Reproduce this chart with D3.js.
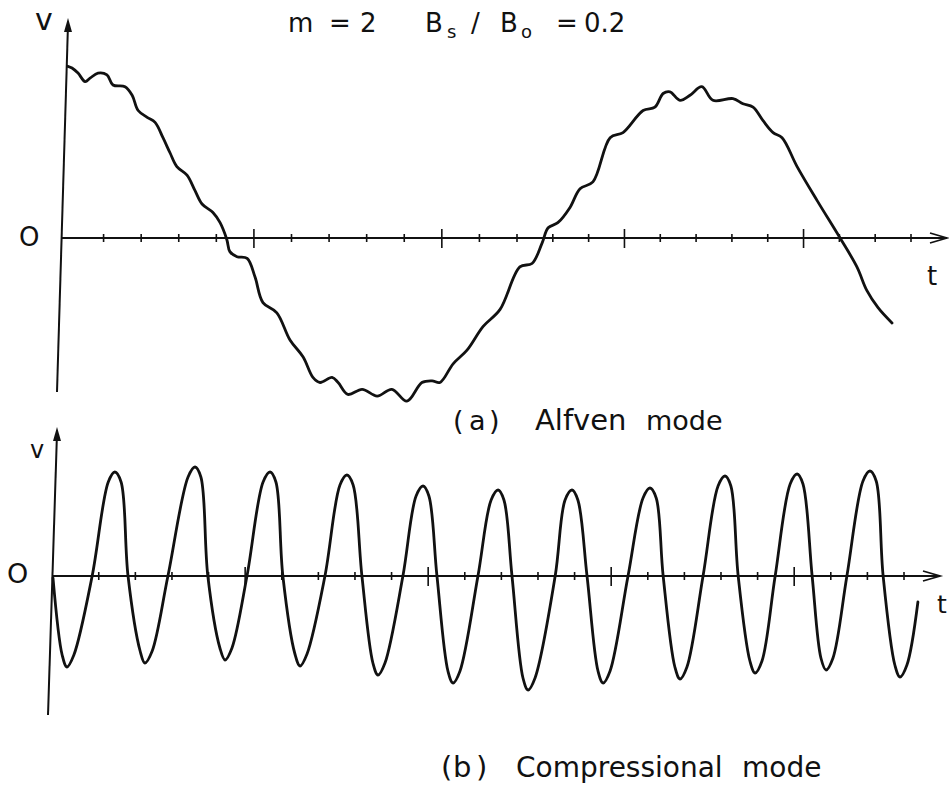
<!DOCTYPE html>
<html>
<head>
<meta charset="utf-8">
<script src="https://cdn.jsdelivr.net/npm/d3@7"></script>
<style>
    body { margin: 0; background: #fff; }
    text { font-family: "DejaVu Sans", sans-serif; fill: #111; }
</style>
</head>
<body>
<div id="chart"></div>
<script>
// (a) Alfven mode -- t in tick units, v relative to the first peak
const alfvenT = [0.05,0.16,0.32,0.51,0.64,0.85,1.09,1.25,1.57,1.76,1.92,2.16,2.37,2.58,2.77,2.95,3.22,3.43,3.62,3.91,
    4.10,4.28,4.36,4.55,4.82,5.03,5.24,5.61,5.96,6.31,6.57,6.76,7.08,7.24,7.50,7.88,8.28,8.67,9.07,9.47,
    9.74,9.95,10.30,10.67,11.10,11.55,12.08,12.42,12.70,12.87,13.14,13.48,13.76,14.12,14.60,14.96,15.52,15.85,16.08,16.27,
    16.55,16.83,17.16,17.47,18.03,18.31,18.59,18.87,19.15,19.40,19.82,20.38,21.02,21.49,21.77,22.08,22.47];
const alfvenV = [1.01,1.00,0.97,0.92,0.94,0.97,0.96,0.90,0.89,0.84,0.75,0.71,0.68,0.59,0.50,0.42,0.37,0.28,0.20,0.15,
    0.09,-0.01,-0.08,-0.11,-0.12,-0.23,-0.38,-0.44,-0.60,-0.70,-0.82,-0.85,-0.82,-0.85,-0.92,-0.89,-0.93,-0.89,-0.96,-0.85,
    -0.84,-0.85,-0.74,-0.66,-0.52,-0.42,-0.17,-0.15,-0.03,0.06,0.09,0.18,0.29,0.33,0.59,0.62,0.75,0.77,0.85,0.86,
    0.81,0.84,0.89,0.81,0.82,0.79,0.77,0.69,0.62,0.59,0.42,0.22,0.00,-0.17,-0.31,-0.41,-0.50];

// (b) Compressional mode
const compT = [-0.25,0.00,0.13,0.32,
    0.82,1.26,1.44,1.61,1.80,2.13,2.26,2.46,
    2.89,3.44,3.63,3.79,3.98,4.31,4.45,4.64,
    5.05,5.49,5.68,5.84,6.03,6.36,6.50,6.69,
    7.18,7.59,7.78,7.95,8.19,8.49,8.63,8.82,
    9.31,9.67,9.86,10.02,10.24,10.54,10.68,10.87,
    11.36,11.72,11.91,12.07,12.29,12.59,12.73,12.92,
    13.47,13.74,13.93,14.09,14.34,14.64,14.78,14.97,
    15.46,15.87,16.06,16.23,16.42,16.74,16.88,17.07,
    17.51,17.92,18.11,18.27,18.47,18.79,18.93,19.12,
    19.48,19.89,20.08,20.24,20.49,20.73,20.87,21.06,
    21.44,21.88,22.07,22.24,22.43,22.75,22.89,23.08,
    23.38];
const compV = [-0.02,-0.79,-0.91,-0.79,
    0,0.94,1.04,0.94,0,-0.75,-0.87,-0.75,
    0,0.99,1.09,0.99,0,-0.72,-0.84,-0.72,
    0,0.94,1.04,0.94,0,-0.78,-0.90,-0.78,
    0,0.91,1.01,0.91,0,-0.87,-0.99,-0.87,
    0,0.80,0.90,0.80,0,-0.95,-1.07,-0.95,
    0,0.76,0.86,0.76,0,-1.02,-1.14,-1.02,
    0,0.76,0.86,0.76,0,-0.95,-1.07,-0.95,
    0,0.78,0.88,0.78,0,-0.91,-1.03,-0.91,
    0,0.90,1.00,0.90,0,-0.85,-0.97,-0.85,
    0,0.92,1.02,0.92,0,-0.82,-0.94,-0.82,
    0,0.95,1.05,0.95,0,-0.89,-1.01,-0.89,
    -0.26];

const tickValues = [1,2,3,4,5,6,7,8,9,10,11,12,13,14,15,16,17,18,19,20,21,22,23];
const majorTicks = [5,10,15,20];

class WavePanel {
    constructor(_svg, _t, _v, _opts) {
        this.svg = _svg;
        this.data = _t.map((d, i) => ({ t: d, v: _v[i] }));
        this.opts = _opts;

        this.initVis();
    }

    initVis() {
        let vis = this;
        let o = vis.opts;

        vis.x = d3.scaleLinear().domain(o.tDomain).range(o.xRange);
        vis.y = d3.scaleLinear().domain([-1, 1]).range([o.y0 + o.vUnit, o.y0 - o.vUnit]);

        vis.g = vis.svg.append("g");

        vis.drawAxes();
        vis.drawCurve();
    }

    drawAxes() {
        let vis = this;
        let o = vis.opts;
        let y0 = vis.y(0);

        // t axis with open arrow head
        vis.g.append("line")
            .attr("x1", o.tAxis[0]).attr("x2", o.tAxis[1])
            .attr("y1", y0).attr("y2", y0)
            .attr("stroke", "#111").attr("stroke-width", 2);
        vis.g.append("path")
            .attr("d", `M${o.tAxis[1] - 17},${y0 - 5}L${o.tAxis[1]},${y0}L${o.tAxis[1] - 17},${y0 + 5}`)
            .attr("fill", "none").attr("stroke", "#111").attr("stroke-width", 1.8);

        vis.g.selectAll(".tick")
            .data(tickValues)
            .join("line")
            .attr("class", "tick")
            .attr("x1", d => vis.x(d)).attr("x2", d => vis.x(d))
            .attr("y1", d => y0 - (majorTicks.includes(d) ? 9 : 4))
            .attr("y2", d => y0 + (majorTicks.includes(d) ? 10 : 4))
            .attr("stroke", "#111").attr("stroke-width", 1.6);

        // v axis (hand drawn, leans a little)
        let top = o.vAxis[0], bot = o.vAxis[1];
        vis.g.append("line")
            .attr("x1", top[0]).attr("y1", top[1] + 6)
            .attr("x2", bot[0]).attr("y2", bot[1])
            .attr("stroke", "#111").attr("stroke-width", 2);
        vis.g.append("path")
            .attr("d", `M${top[0]},${top[1]}L${top[0] - 4},${top[1] + 14}L${top[0] + 4},${top[1] + 14}Z`)
            .attr("fill", "#111");

        // axis letters
        vis.g.append("text").attr("x", o.vLabel[0]).attr("y", o.vLabel[1])
            .attr("font-size", o.vLabel[2]).text("v");
        vis.g.append("text").attr("x", o.oLabel[0]).attr("y", o.oLabel[1])
            .attr("font-size", o.oLabel[2]).text("O");
        vis.g.append("text").attr("x", o.tLabel[0]).attr("y", o.tLabel[1])
            .attr("font-size", o.tLabel[2]).text("t");
    }

    drawCurve() {
        let vis = this;

        vis.line = d3.line()
            .x(d => vis.x(d.t))
            .y(d => vis.y(d.v))
            .curve(d3.curveCatmullRom.alpha(0.5));

        vis.g.append("path")
            .datum(vis.data)
            .attr("d", vis.line)
            .attr("fill", "none")
            .attr("stroke", "#111")
            .attr("stroke-width", 2.8)
            .attr("stroke-linejoin", "round")
            .attr("stroke-linecap", "round");
    }
}

const svg = d3.select("#chart").append("svg")
    .attr("width", 949)
    .attr("height", 788);

new WavePanel(svg, alfvenT, alfvenV, {
    tDomain: [0, 12, 23], xRange: [66, 517, 911],
    y0: 238, vUnit: 170,
    tAxis: [61, 947],
    vAxis: [[68, 18], [57, 392]],
    vLabel: [35, 30, 30], oLabel: [19, 246, 26], tLabel: [927, 285, 26]
});

new WavePanel(svg, compT, compV, {
    tDomain: [-0.25, 23], xRange: [53, 904],
    y0: 576, vUnit: 100,
    tAxis: [52, 940],
    vAxis: [[57, 427], [48, 715]],
    vLabel: [30, 458, 24], oLabel: [7, 583, 27], tLabel: [937, 613, 25]
});

// title and captions, placed piece by piece like the lettering guide
function letter(x, y, str, size) {
    svg.append("text").attr("x", x).attr("y", y).attr("font-size", size).text(str);
}
letter(288, 32, "m", 26);
letter(329, 32, "=", 26);
letter(360, 32, "2", 26);
letter(425, 32, "B", 26);
letter(447, 38, "s", 18);
letter(471, 32, "/", 26);
letter(500, 32, "B", 26);
letter(521, 38, "o", 18);
letter(556, 32, "=", 26);
letter(584, 32, "0.2", 26);

letter(453, 430, "(", 27);
letter(469, 430, "a", 27);
letter(489, 430, ")", 27);
letter(535, 430, "Alfven", 29);
letter(646, 430, "mode", 27);

letter(441, 777, "(", 29);
letter(453, 777, "b", 29);
letter(476, 777, ")", 29);
letter(516, 777, "Compressional", 28);
letter(742, 777, "mode", 28);
</script>
</body>
</html>
